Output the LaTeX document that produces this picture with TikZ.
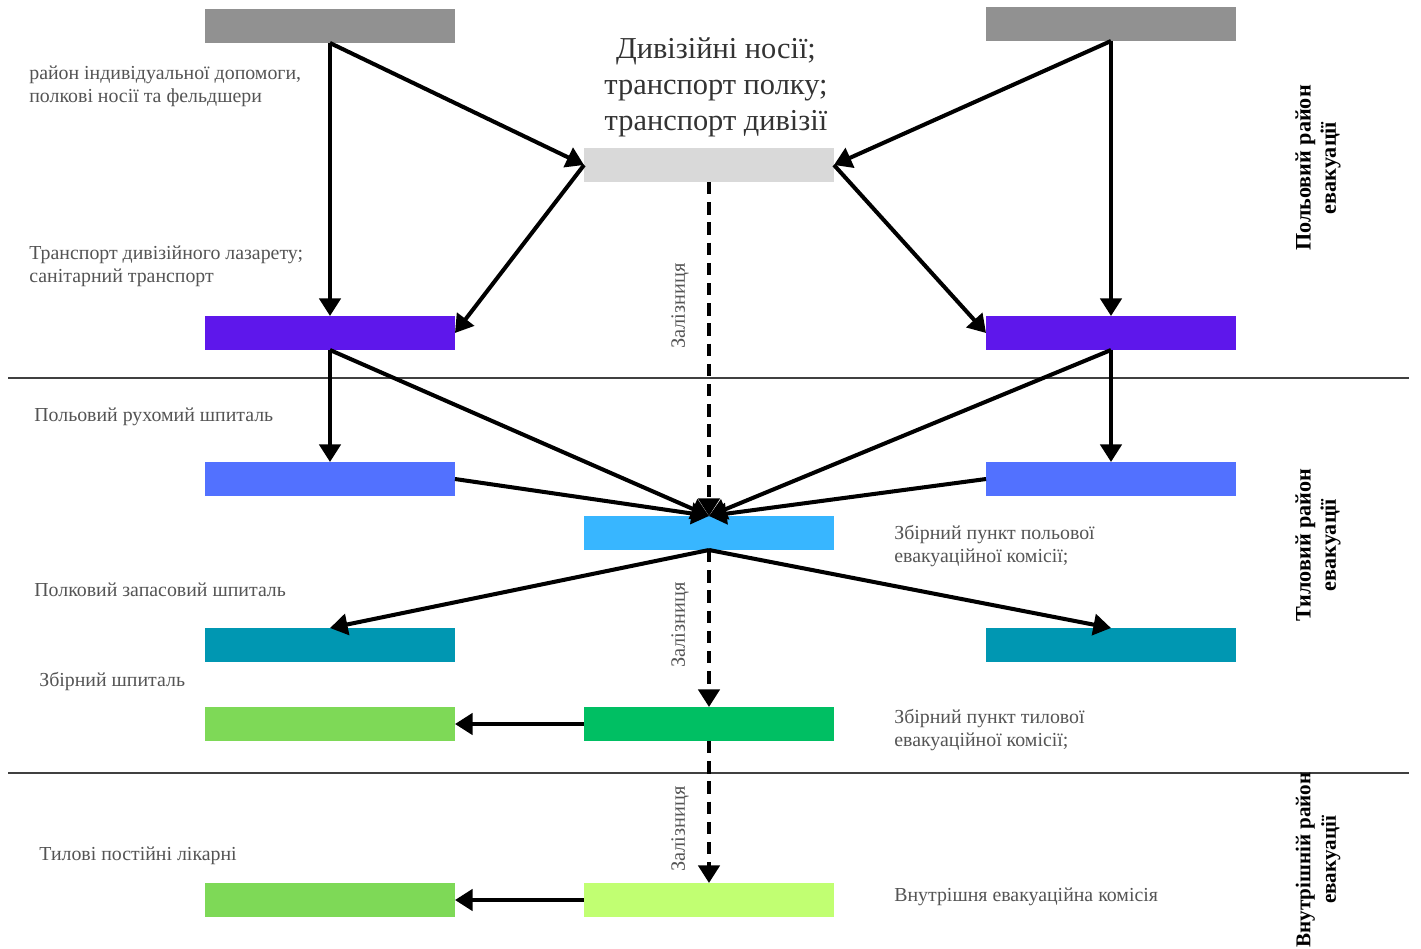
\documentclass[tikz,border=0pt]{standalone}
\usepackage{fontspec}
\setmainfont{Liberation Serif}
\usepackage{xcolor}
\usepackage{tikz}
\usetikzlibrary{arrows.meta,positioning}
\definecolor{evacgray}{HTML}{919191}
\definecolor{evaclight}{HTML}{D9D9D9}
\definecolor{evacpurple}{HTML}{5E17EB}
\definecolor{evacblue}{HTML}{5271FF}
\definecolor{evacsky}{HTML}{38B6FF}
\definecolor{evacteal}{HTML}{0097B2}
\definecolor{evaclime}{HTML}{7ED957}
\definecolor{evacgreen}{HTML}{00BF63}
\definecolor{evacpale}{HTML}{C1FF72}
\definecolor{evactext}{HTML}{545454}

\begin{document}
\begin{tikzpicture}[x=0.02cm, y=-0.02cm,
  bar/.style={minimum width=5cm, minimum height=6.8mm, inner sep=0pt, outer sep=0pt},
  note/.style={text=evactext, font=\fontsize{11.3}{13.3}\selectfont, align=left, inner sep=0pt, anchor=west},
  zone/.style={rotate=90, font=\bfseries\fontsize{12.6}{14.5}\selectfont, align=center, inner sep=0pt},
  rail/.style={rotate=90, text=evactext, font=\fontsize{11.6}{13}\selectfont, inner sep=0pt},
  arrow/.style={-{Triangle[length=10pt, width=12pt]}, line width=2.3pt},
  railarrow/.style={arrow, dash pattern=on 7pt off 4.5pt},
  divider/.style={line width=0.7pt, draw=black!75}
]
\useasboundingbox (0,0) rectangle (1421,948);

% bars
\node[bar, fill=evacgray] (topl) at (330,26) {};
\node[bar, fill=evacgray] (topr) at (1111,24) {};
\node[bar, fill=evaclight] (divn) at (709,165) {};
\node[bar, fill=evacpurple] (laz) at (330,333) {};
\node[bar, fill=evacpurple] (lazr) at (1111,333) {};
\node[bar, fill=evacblue] (ruh) at (330,479) {};
\node[bar, fill=evacblue] (ruhr) at (1111,479) {};
\node[bar, fill=evacsky] (polk) at (709,533) {};
\node[bar, fill=evacteal] (zap) at (330,645) {};
\node[bar, fill=evacteal] (zapr) at (1111,645) {};
\node[bar, fill=evaclime] (zbsp) at (330,724) {};
\node[bar, fill=evacgreen] (tylk) at (709,724) {};
\node[bar, fill=evacpale] (vnk) at (709,900) {};
\node[bar, fill=evaclime] (likar) at (330,900) {};

% dividers
\draw[divider] (8,378) -- (1409,378);
\draw[divider] (8,773) -- (1409,773);

% labels
\node[note] (lbdop) at (29,86) {район індивідуальної допомоги,\\полкові носії та фельдшери};
\node[text=black!80, font=\fontsize{17.3}{20.5}\selectfont, align=center, inner sep=0pt] (lbnos) at (716,87) {Дивізійні носії;\\транспорт полку;\\транспорт дивізії};
\node[note] (lbtr) at (29,266) {Транспорт дивізійного лазарету;\\санітарний транспорт};
\node[note] (lbruh) at (34,417) {Польовий рухомий шпиталь};
\node[note] (lbzap) at (34,590) {Полковий запасовий шпиталь};
\node[note] (lbzb) at (39,681) {Збірний шпиталь};
\node[note] (lblik) at (39,856) {Тилові постійні лікарні};
\node[note] (lbpolk) at (894,546) {Збірний пункт польової\\евакуаційної комісії;};
\node[note] (lbtylk) at (894,730) {Збірний пункт тилової\\евакуаційної комісії;};
\node[note] (lbvnk) at (894,897) {Внутрішня евакуаційна комісія};
\node[zone] (zpol) at (1318,168) {Польовий район\\евакуації};
\node[zone] (ztyl) at (1318,545) {Тиловий район\\евакуації};
\node[zone, font=\bfseries\fontsize{12}{14.5}\selectfont] (zvn) at (1318,860) {Внутрішній район\\евакуації};
\node[rail] (rail1) at (680,306) {Залізниця};
\node[rail] (rail2) at (680,625) {Залізниця};
\node[rail] (rail3) at (680,829) {Залізниця};

% arrows
\draw[arrow] (topl.south) -- (laz.north);
\draw[arrow] (topl.south) -- (divn.west);
\draw[arrow] (divn.west) -- (laz.east);
\draw[arrow] (topr.south) -- (divn.east);
\draw[arrow] (topr.south) -- (lazr.north);
\draw[arrow] (divn.east) -- (lazr.west);
\draw[railarrow] (divn.south) -- (polk.north);
\draw[arrow] (laz.south) -- (ruh.north);
\draw[arrow] (laz.south) -- (polk.north);
\draw[arrow] (ruh.east) -- (polk.north);
\draw[arrow] (lazr.south) -- (ruhr.north);
\draw[arrow] (lazr.south) -- (polk.north);
\draw[arrow] (ruhr.west) -- (polk.north);
\draw[arrow] (polk.south) -- (zap.north);
\draw[arrow] (polk.south) -- (zapr.north);
\draw[railarrow] (polk.south) -- (tylk.north);
\draw[arrow] (tylk.west) -- (zbsp.east);
\draw[railarrow] (tylk.south) -- (vnk.north);
\draw[arrow] (vnk.west) -- (likar.east);
\end{tikzpicture}
\end{document}
